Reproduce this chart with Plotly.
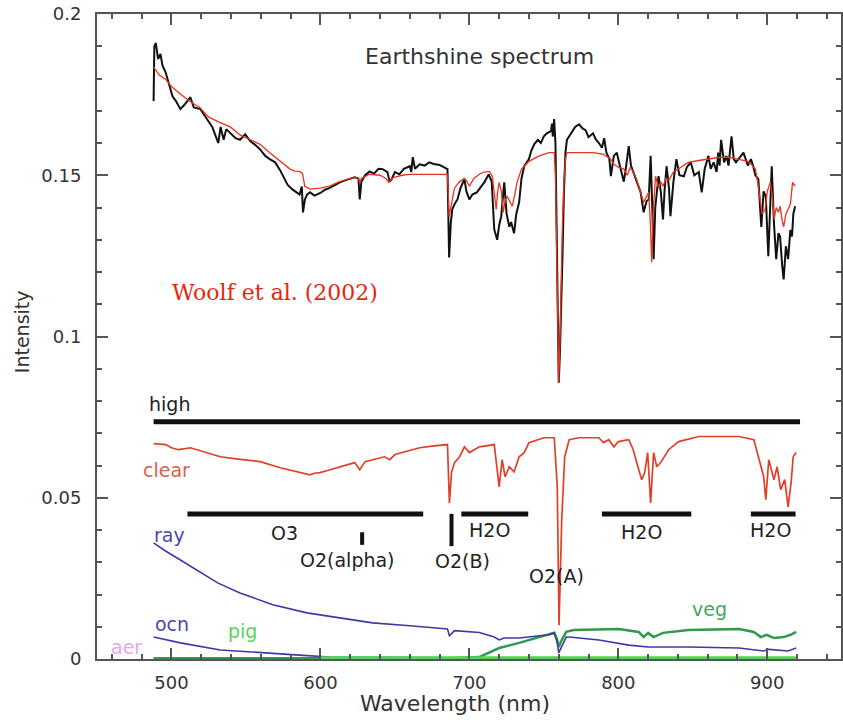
import plotly.graph_objects as go

# ---------------- data ----------------
obs_wl = [488, 488.5, 489.5, 491, 492.6, 494, 496, 498, 500.7, 503, 506, 509, 512.7, 515, 519.4, 523, 527.4, 529,
          531.4, 533, 535, 536.8, 540, 543, 546, 549.5, 553, 556, 559.5, 563, 566, 569.6, 573, 576, 578, 581, 584,
          586, 587.5, 588.3, 589.6, 591, 593, 596, 600, 603, 606, 610, 613, 617, 620, 623, 625.5, 626.4, 627.5,
          630, 633, 636, 639, 641.8, 645, 646.5, 647.8, 650, 653, 656, 660, 661, 662, 663.5, 666.6, 670, 673, 676,
          680, 683, 685.3, 686.4, 687.5, 688.5, 690, 692, 694, 696.7, 698, 700, 702, 705, 707, 710, 713, 715,
          716.7, 718.7, 720, 721.4, 723.4, 725, 726.8, 728, 730, 731.5, 733.4, 735, 736.8, 740, 741.5, 743.5, 746,
          748, 750, 752, 754.8, 755.5, 756, 756.9, 757.8, 758.5, 759.2, 760, 760.8, 761.5, 762.5, 763.5, 764.5,
          765.5, 767, 769, 771, 773.6, 776, 778, 780, 783, 785, 787, 789, 790.5, 792, 794, 795, 797, 799, 801,
          803.7, 805, 807, 808.5, 810, 812, 813.5, 815, 817, 819, 820.4, 821.7, 822.8, 823.7, 824.8, 827, 828.5,
          830, 831, 832.4, 834, 835, 837, 839, 841, 844, 846, 848.6, 851, 854, 856, 858, 860.5, 862, 864, 866,
          867, 868, 869, 871, 872.6, 874, 876, 877.5, 879, 882, 884, 887, 889, 890.6, 892, 894, 895, 896, 897.5,
          899, 900.7, 902, 903, 904.5, 906, 907.5, 908.6, 910, 911, 912.5, 914, 915.5, 916.6, 917.5, 918.7]
obs_val = [0.173, 0.190, 0.191, 0.186, 0.1876, 0.184, 0.182, 0.179, 0.1745, 0.173, 0.1705, 0.172, 0.1742, 0.171,
           0.1705, 0.168, 0.165, 0.163, 0.160, 0.165, 0.161, 0.1643, 0.163, 0.1615, 0.161, 0.1627, 0.1605, 0.1595,
           0.158, 0.156, 0.155, 0.154, 0.1515, 0.1488, 0.147, 0.1457, 0.1445, 0.144, 0.1465, 0.1385, 0.1425, 0.144,
           0.1447, 0.1437, 0.1445, 0.1455, 0.146, 0.147, 0.1478, 0.1485, 0.149, 0.1494, 0.149, 0.1425, 0.148,
           0.150, 0.1512, 0.1505, 0.152, 0.1519, 0.151, 0.148, 0.1488, 0.151, 0.1503, 0.152, 0.1528, 0.151, 0.1556,
           0.152, 0.1534, 0.153, 0.154, 0.1535, 0.1532, 0.1525, 0.1519, 0.1245, 0.135, 0.1394, 0.141, 0.1425,
           0.146, 0.1488, 0.145, 0.1425, 0.144, 0.1447, 0.146, 0.1478, 0.1503, 0.148, 0.1332, 0.130, 0.1345,
           0.1373, 0.1478, 0.138, 0.134, 0.1355, 0.132, 0.138, 0.1416, 0.149, 0.1528, 0.155, 0.1575, 0.1596, 0.161,
           0.160, 0.1621, 0.163, 0.1637, 0.166, 0.162, 0.1674, 0.160, 0.140, 0.110, 0.0857, 0.095, 0.105, 0.125,
           0.145, 0.157, 0.161, 0.162, 0.1633, 0.165, 0.1658, 0.1645, 0.164, 0.1618, 0.163, 0.161, 0.160, 0.1585,
           0.1615, 0.157, 0.155, 0.1497, 0.156, 0.157, 0.153, 0.148, 0.152, 0.159, 0.153, 0.151, 0.149, 0.147,
           0.1447, 0.1385, 0.142, 0.1425, 0.156, 0.140, 0.124, 0.140, 0.1497, 0.145, 0.1363, 0.145, 0.1528, 0.146,
           0.1373, 0.148, 0.155, 0.150, 0.1497, 0.1525, 0.154, 0.150, 0.151, 0.1447, 0.152, 0.156, 0.152, 0.154,
           0.151, 0.157, 0.153, 0.161, 0.154, 0.156, 0.153, 0.1621, 0.155, 0.154, 0.156, 0.157, 0.153, 0.155,
           0.1528, 0.150, 0.1488, 0.140, 0.134, 0.145, 0.1435, 0.1249, 0.140, 0.1528, 0.135, 0.124, 0.132, 0.131,
           0.122, 0.1177, 0.128, 0.124, 0.133, 0.131, 0.138, 0.1404]

model_wl = [488, 492, 496, 500, 506, 512, 519, 525, 532, 539.5, 546, 553, 559.5, 566, 573, 576.5, 579.6, 583, 586,
            588, 589.5, 593, 600, 606, 613, 620, 623, 625.5, 626.4, 627.5, 633, 640, 644, 646, 648, 650, 655, 660,
            670, 680, 685.3, 686.4, 687.5, 688.5, 690, 693, 696.7, 698.5, 700, 703, 706.7, 710, 713.4, 715.4,
            716.5, 718, 719, 720, 721.5, 722.7, 724, 725.4, 727, 728.8, 730.5, 732, 735, 740, 746.8, 753.5, 757,
            757.8, 758.5, 759.3, 760, 760.8, 761.5, 762.5, 763.5, 764.5, 765.5, 770, 777, 783.5, 790, 795, 797,
            800, 803.7, 806, 808, 810, 812, 813.7, 815.5, 817, 818.5, 820.4, 821.5, 822.4, 823.3, 825, 827, 828.5,
            830, 832, 834, 837, 842, 847, 853, 860.5, 867, 874, 880, 887, 890, 892, 893.5, 895, 896.5, 898.6, 900,
            902, 903.5, 904.6, 906, 907.5, 908.6, 910, 911, 912.5, 914, 915.5, 917, 918.7]
model_val = [0.1835, 0.181, 0.1798, 0.1775, 0.1752, 0.173, 0.171, 0.168, 0.1665, 0.165, 0.1625, 0.161, 0.1596,
             0.157, 0.1543, 0.153, 0.1519, 0.1513, 0.1512, 0.1505, 0.1466, 0.1457, 0.146, 0.1466, 0.148, 0.149,
             0.1494, 0.149, 0.1478, 0.149, 0.1503, 0.150, 0.149, 0.1478, 0.149, 0.1494, 0.150, 0.1503, 0.1503,
             0.1503, 0.1503, 0.1373, 0.140, 0.1425, 0.146, 0.1478, 0.149, 0.148, 0.1466, 0.149, 0.1503, 0.151,
             0.1512, 0.1497, 0.145, 0.1394, 0.145, 0.1478, 0.145, 0.1385, 0.142, 0.1435, 0.142, 0.1404, 0.144,
             0.1478, 0.1519, 0.1543, 0.156, 0.157, 0.157, 0.150, 0.130, 0.105, 0.086, 0.098, 0.115, 0.135, 0.148,
             0.155, 0.157, 0.157, 0.1572, 0.157, 0.1565, 0.155, 0.1534, 0.1525, 0.1519, 0.150, 0.1525, 0.151,
             0.149, 0.1466, 0.144, 0.1416, 0.143, 0.1447, 0.135, 0.123, 0.138, 0.1497, 0.146, 0.148, 0.1466,
             0.149, 0.1485, 0.151, 0.1525, 0.154, 0.1545, 0.155, 0.1555, 0.1556, 0.155, 0.1543, 0.153, 0.1519,
             0.148, 0.1435, 0.138, 0.1394, 0.145, 0.1478, 0.143, 0.1363, 0.140, 0.1385, 0.1404, 0.136, 0.134,
             0.138, 0.1394, 0.141, 0.1478, 0.1466]

clear_wl = [488, 496, 500, 504.7, 512.7, 520, 532.8, 545, 559.5, 573, 586, 590, 593, 596, 599.7, 606, 613, 623,
            626.4, 630, 643, 646.6, 650, 658, 666.6, 675, 683, 685.3, 686.6, 688, 690, 693.4, 696.7, 700, 703.3,
            706.7, 716.7, 718.7, 720, 722, 724, 726.8, 730, 733.4, 736.8, 740, 750, 757, 759, 760.2, 762, 764,
            767, 773.6, 787, 790, 793.6, 797, 800, 807, 810, 813.7, 815.7, 817.7, 819.7, 821.7, 823.7, 825.8,
            828.4, 833.8, 840.5, 854, 880.9, 891, 895.6, 897.6, 899, 901, 904.5, 906.6, 909, 911.7, 914, 916,
            917.4, 919.4]
clear_val = [0.0668, 0.0665, 0.0655, 0.0649, 0.0655, 0.0645, 0.0627, 0.062, 0.0612, 0.0593, 0.0578, 0.0575,
             0.0571, 0.0576, 0.0578, 0.0586, 0.0596, 0.0609, 0.0587, 0.0612, 0.0627, 0.0618, 0.0634, 0.0645,
             0.0655, 0.066, 0.0665, 0.0665, 0.0484, 0.0578, 0.0609, 0.0627, 0.0658, 0.064, 0.0649, 0.0658, 0.0665,
             0.0596, 0.0534, 0.0618, 0.0565, 0.0596, 0.058, 0.0627, 0.064, 0.0671, 0.0686, 0.0686, 0.0534, 0.0105,
             0.0432, 0.0627, 0.068, 0.0686, 0.0686, 0.0671, 0.068, 0.0658, 0.0674, 0.068, 0.0649, 0.0587, 0.0556,
             0.0578, 0.064, 0.0484, 0.064, 0.0596, 0.0609, 0.0649, 0.0674, 0.069, 0.069, 0.068, 0.0596, 0.0565,
             0.0494, 0.0618, 0.0556, 0.0596, 0.0525, 0.0556, 0.0472, 0.0547, 0.0627, 0.064]

ray_wl = [488, 496, 506, 519, 531, 546, 568, 591, 613, 635, 660, 680, 685.3, 686.6, 690, 706.7, 716.7, 720,
          723.4, 733.4, 753.5, 757, 759, 760, 762, 765, 767, 787, 807, 820, 847, 881, 897.6, 901, 914, 919.4]
ray_val = [0.036, 0.0335, 0.0307, 0.027, 0.0236, 0.0205, 0.0168, 0.0143, 0.0127, 0.0112, 0.0103, 0.0096, 0.0093,
           0.0072, 0.0088, 0.0082, 0.0068, 0.0059, 0.0065, 0.0065, 0.0075, 0.0081, 0.005, 0.0019, 0.0037, 0.0068,
           0.0068, 0.0059, 0.0043, 0.0037, 0.0037, 0.0034, 0.0025, 0.003, 0.0025, 0.0034]

ocn_wl = [488, 506, 532.8, 559.5, 586, 606, 650, 700, 760, 820, 919]
ocn_val = [0.0068, 0.005, 0.0028, 0.0019, 0.0012, 0.0006, 0.0004, 0.0004, 0.0003, 0.0003, 0.0003]

veg_wl = [488, 600, 690, 706.7, 720, 733.4, 746.8, 757, 759, 760, 762, 765, 770, 800, 813.7, 817, 820, 823.7,
          830, 847, 881, 891, 895.6, 899.6, 904.5, 911, 915.7, 919.4]
veg_val = [0.0002, 0.0002, 0.0003, 0.0006, 0.0034, 0.005, 0.0068, 0.0081, 0.0059, 0.0037, 0.0059, 0.0084, 0.009,
           0.0093, 0.0084, 0.0068, 0.0081, 0.0068, 0.0081, 0.009, 0.0093, 0.0084, 0.0068, 0.0075, 0.0065, 0.0068,
           0.0075, 0.0084]

pig_wl = [600, 700, 800, 919]
pig_val = [0.0003, 0.0003, 0.0003, 0.0003]

aer_wl = [488, 919]
aer_val = [0.0002, 0.0002]

# band markers (black bars)
bar_names = ["high", "O3", "H2O-1", "H2O-2", "H2O-3"]
bar_start = [488, 510.7, 694.6, 789, 889]
bar_end = [922, 669, 739.5, 849, 919]
bar_level = [0.0736, 0.045, 0.045, 0.045, 0.045]
tick_wl = [628, 688]
tick_lo = [0.0354, 0.035]
tick_hi = [0.0393, 0.045]

# labels
lab_text = ["high", "clear", "ray", "ocn", "pig", "aer", "veg", "O3", "O2(alpha)", "O2(B)", "H2O", "O2(A)", "H2O", "H2O"]
lab_x = [498.7, 496.7, 498.7, 500.3, 548, 470, 861.5, 576, 618.4, 695.3, 713.7, 758.2, 815.4, 902.3]
lab_y = [0.0791, 0.0587, 0.0386, 0.0109, 0.0087, 0.0037, 0.0155, 0.039, 0.0307, 0.0304, 0.0401, 0.0258, 0.0394, 0.0401]
lab_col = ["#222222", "#d8604c", "#4a48b0", "#4a48b0", "#5ad25a", "#eaa6ea", "#3ea860", "#222222", "#222222",
           "#222222", "#222222", "#222222", "#222222", "#222222"]

# ---------------- figure ----------------
fig = go.Figure()
for s, e, lv in zip(bar_start, bar_end, bar_level):
    fig.add_trace(go.Scatter(x=[s, e], y=[lv, lv], mode="lines", line=dict(color="#111111", width=5),
                             hoverinfo="skip"))
for w, lo, hi in zip(tick_wl, tick_lo, tick_hi):
    fig.add_trace(go.Scatter(x=[w, w], y=[lo, hi], mode="lines", line=dict(color="#111111", width=4),
                             hoverinfo="skip"))

fig.add_trace(go.Scatter(x=aer_wl, y=aer_val, mode="lines", line=dict(color="#eaa6ea", width=2)))
fig.add_trace(go.Scatter(x=veg_wl, y=veg_val, mode="lines", line=dict(color="#2f9a4c", width=2.5)))
fig.add_trace(go.Scatter(x=ocn_wl, y=ocn_val, mode="lines", line=dict(color="#3c3aa8", width=1.6)))
fig.add_trace(go.Scatter(x=pig_wl, y=pig_val, mode="lines", line=dict(color="#52d652", width=3.5)))
fig.add_trace(go.Scatter(x=ray_wl, y=ray_val, mode="lines", line=dict(color="#3c3aa8", width=1.6)))
fig.add_trace(go.Scatter(x=clear_wl, y=clear_val, mode="lines", line=dict(color="#e0402a", width=1.7)))
fig.add_trace(go.Scatter(x=obs_wl, y=obs_val, mode="lines", line=dict(color="#111111", width=2)))
fig.add_trace(go.Scatter(x=model_wl, y=model_val, mode="lines", line=dict(color="#e8341e", width=1.3)))

for t, x, y, c in zip(lab_text, lab_x, lab_y, lab_col):
    fig.add_annotation(x=x, y=y, xref="x", yref="y", text=t, showarrow=False,
                       font=dict(family="DejaVu Sans", size=19, color=c), xanchor="center", yanchor="middle")

fig.add_annotation(x=(481 - 97) / 746, y=(659 - 57) / 645, xref="paper", yref="paper", text="Earthshine spectrum",
                   showarrow=False, font=dict(family="DejaVu Sans", size=22, color="#333333"),
                   xanchor="center", yanchor="middle")
fig.add_annotation(x=(275 - 97) / 746, y=(659 - 292) / 645, xref="paper", yref="paper", text="Woolf et al. (2002)",
                   showarrow=False, font=dict(family="DejaVu Serif", size=22, color="#e8250f"),
                   xanchor="center", yanchor="middle")
fig.add_annotation(x=(456 - 97) / 746, y=(659 - 704) / 645, xref="paper", yref="paper", text="Wavelength (nm)",
                   showarrow=False, font=dict(family="DejaVu Sans", size=22, color="#333333"),
                   xanchor="center", yanchor="middle")
fig.add_annotation(x=(22 - 97) / 746, y=(659 - 332) / 645, xref="paper", yref="paper", text="Intensity",
                   showarrow=False, textangle=-90, font=dict(family="DejaVu Sans", size=19, color="#333333"),
                   xanchor="center", yanchor="middle")

axis_common = dict(showgrid=False, zeroline=False, showline=True, linecolor="#555555", linewidth=2,
                   mirror="allticks", ticks="inside", ticklen=11, tickwidth=2, tickcolor="#555555",
                   tickfont=dict(family="DejaVu Sans", size=18, color="#333333"))
fig.update_xaxes(range=[450, 949.5], dtick=100, tick0=0, ticklabelstandoff=6,
                 minor=dict(dtick=20, tick0=0, ticks="inside", ticklen=5, tickwidth=1.5, tickcolor="#555555"),
                 **axis_common)
fig.update_yaxes(range=[0, 0.2], dtick=0.05, tick0=0, ticklabelstandoff=10,
                 minor=dict(dtick=0.01, tick0=0, ticks="inside", ticklen=5, tickwidth=1.5, tickcolor="#555555"),
                 **axis_common)
fig.update_layout(width=843, height=722, margin=dict(l=97, r=0, t=14, b=63), showlegend=False,
                  plot_bgcolor="white", paper_bgcolor="white")
fig.write_html("out.html")
